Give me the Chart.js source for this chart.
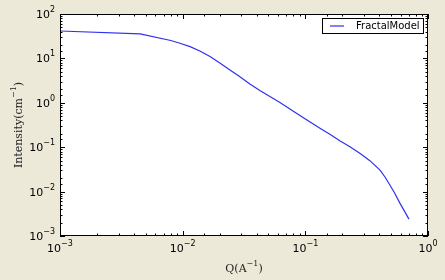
<!DOCTYPE html>
<html>
<head>
<meta charset="utf-8">
<script src="https://cdn.jsdelivr.net/npm/chart.js@4.4.1/dist/chart.umd.min.js"></script>
<style>
  html, body { margin: 0; padding: 0; background: #ece9d8; }
  #wrap { width: 445px; height: 280px; }
</style>
</head>
<body>
<div id="wrap"><canvas id="plot"></canvas></div>
<script>
// values
const qValues = [0.001, 0.0045, 0.008, 0.0095, 0.0115, 0.0138, 0.0167, 0.0201, 0.0243, 0.0293, 0.0353, 0.0426,
                 0.0621, 0.0903, 0.1315, 0.1585, 0.191, 0.231, 0.278, 0.336, 0.406, 0.446, 0.489, 0.537,
                 0.590, 0.648, 0.699];
const intensity = [41.4, 35.5, 25.3, 21.9, 18.4, 14.7, 11.0, 7.87, 5.48, 3.86, 2.65, 1.89,
                   1.02, 0.518, 0.267, 0.195, 0.140, 0.1025, 0.0729, 0.0497, 0.0306, 0.0213, 0.0141, 0.0091,
                   0.0055, 0.0035, 0.0024];
const seriesName = 'FractalModel';
const xDecades = [-3, -2, -1, 0];
const yDecades = [-3, -2, -1, 0, 1, 2];

const points = qValues.map((q, i) => ({ x: q, y: intensity[i] }));

// draws a "10^n" label, anchor is 'center' or 'right'
function powLabel(ctx, n, x, y, anchor) {
  const base = '10', exp = String(n).replace('-', '\u2212');
  ctx.font = '11px "DejaVu Sans"';
  const wb = ctx.measureText(base).width;
  ctx.font = '8px "DejaVu Sans"';
  const we = ctx.measureText(exp).width;
  const total = wb + we;
  let x0 = anchor === 'right' ? x - total : x - total / 2;
  ctx.fillStyle = '#000';
  ctx.textAlign = 'left';
  ctx.textBaseline = 'alphabetic';
  ctx.font = '11px "DejaVu Sans"';
  ctx.fillText(base, x0, y);
  ctx.font = '8px "DejaVu Sans"';
  ctx.fillText(exp, x0 + wb, y - 6);
}

const axesPlugin = {
  id: 'mplAxes',
  afterDraw(chart) {
    const { ctx, chartArea: a, scales } = chart;
    const xs = scales.x, ys = scales.y;
    ctx.save();
    // frame
    ctx.strokeStyle = '#000';
    ctx.lineWidth = 1;
    ctx.strokeRect(a.left + 0.5, a.top + 0.5, a.right - a.left - 1, a.bottom - a.top - 1);

    // ticks inward on all four sides
    ctx.beginPath();
    xs.ticks.forEach(t => {
      const major = Number.isInteger(Math.round(Math.log10(t.value) * 1000) / 1000);
      const len = major ? 5 : 2.5;
      const px = Math.round(xs.getPixelForValue(t.value)) + 0.5;
      ctx.moveTo(px, a.bottom); ctx.lineTo(px, a.bottom - len);
      ctx.moveTo(px, a.top); ctx.lineTo(px, a.top + len);
    });
    ys.ticks.forEach(t => {
      const major = Number.isInteger(Math.round(Math.log10(t.value) * 1000) / 1000);
      const len = major ? 5 : 2.5;
      const py = Math.round(ys.getPixelForValue(t.value)) + 0.5;
      ctx.moveTo(a.left, py); ctx.lineTo(a.left + len, py);
      ctx.moveTo(a.right, py); ctx.lineTo(a.right - len, py);
    });
    ctx.stroke();

    // tick labels
    xDecades.forEach(n => powLabel(ctx, n, xs.getPixelForValue(Math.pow(10, n)), a.bottom + 16, 'center'));
    yDecades.forEach(n => powLabel(ctx, n, a.left - 5, ys.getPixelForValue(Math.pow(10, n)) + 4, 'right'));

    // axis titles
    ctx.fillStyle = '#222';
    ctx.textBaseline = 'alphabetic';
    ctx.font = '11px "DejaVu Serif"';
    let w1 = ctx.measureText('Q(A').width;
    ctx.font = '8px "DejaVu Serif"';
    let w2 = ctx.measureText('\u22121').width;
    ctx.font = '11px "DejaVu Serif"';
    let w3 = ctx.measureText(')').width;
    let cx = (a.left + a.right) / 2 - (w1 + w2 + w3) / 2;
    ctx.textAlign = 'left';
    ctx.fillText('Q(A', cx, 272);
    ctx.font = '8px "DejaVu Serif"';
    ctx.fillText('\u22121', cx + w1, 266);
    ctx.font = '11px "DejaVu Serif"';
    ctx.fillText(')', cx + w1 + w2, 272);

    ctx.save();
    ctx.translate(22, (a.top + a.bottom) / 2);
    ctx.rotate(-Math.PI / 2);
    ctx.font = '11px "DejaVu Serif"';
    w1 = ctx.measureText('Intensity(cm').width;
    ctx.font = '8px "DejaVu Serif"';
    w2 = ctx.measureText('\u22121').width;
    ctx.font = '11px "DejaVu Serif"';
    w3 = ctx.measureText(')').width;
    cx = -(w1 + w2 + w3) / 2;
    ctx.fillText('Intensity(cm', cx, 0);
    ctx.font = '8px "DejaVu Serif"';
    ctx.fillText('\u22121', cx + w1, -6);
    ctx.font = '11px "DejaVu Serif"';
    ctx.fillText(')', cx + w1 + w2, 0);
    ctx.restore();

    // legend box
    const lx = 322, ly = 18, lw = 101, lh = 15;
    ctx.fillStyle = '#fff';
    ctx.fillRect(lx, ly, lw, lh);
    ctx.strokeStyle = '#000';
    ctx.strokeRect(lx + 0.5, ly + 0.5, lw, lh);
    ctx.strokeStyle = chart.data.datasets[0].borderColor;
    ctx.lineWidth = 1.2;
    ctx.beginPath();
    ctx.moveTo(lx + 8, ly + 8); ctx.lineTo(lx + 22, ly + 8);
    ctx.stroke();
    ctx.fillStyle = '#000';
    ctx.font = '10px "DejaVu Sans"';
    ctx.textAlign = 'left';
    ctx.textBaseline = 'middle';
    ctx.fillText(chart.data.datasets[0].label, lx + 34, ly + 8.5);
    ctx.restore();
  }
};

new Chart(document.getElementById('plot'), {
  type: 'line',
  data: {
    datasets: [{
      label: seriesName,
      data: points,
      borderColor: '#3030f0',
      borderWidth: 1.2,
      pointRadius: 0,
      tension: 0,
      fill: false
    }]
  },
  options: {
    responsive: true,
    maintainAspectRatio: false,
    animation: false,
    devicePixelRatio: 1,
    layout: { padding: { left: 0, top: 14, right: 17, bottom: 0 } },
    plugins: { legend: { display: false }, tooltip: { enabled: false } },
    scales: {
      x: {
        type: 'logarithmic', min: 0.001, max: 1,
        grid: { display: false }, border: { display: false },
        ticks: { display: false },
        afterFit: s => { s.height = 44; }
      },
      y: {
        type: 'logarithmic', min: 0.001, max: 100,
        grid: { display: false }, border: { display: false },
        ticks: { display: false },
        afterFit: s => { s.width = 60; }
      }
    }
  },
  plugins: [{
    id: 'bg',
    beforeDraw(chart) {
      const { ctx, chartArea: a } = chart;
      ctx.save();
      ctx.fillStyle = '#fff';
      ctx.fillRect(a.left, a.top, a.right - a.left, a.bottom - a.top);
      ctx.restore();
    }
  }, axesPlugin]
});
</script>
</body>
</html>
